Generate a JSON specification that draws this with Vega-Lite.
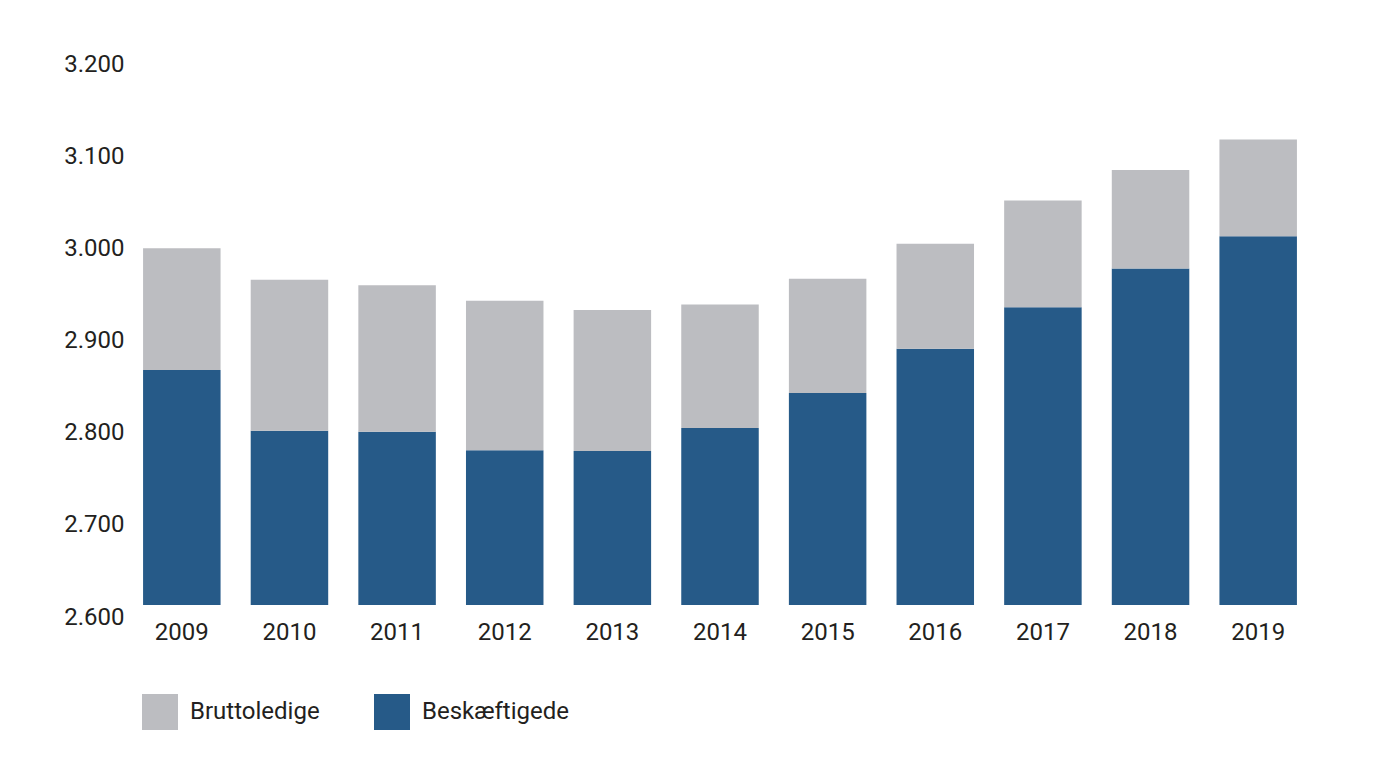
{
  "$schema": "https://vega.github.io/schema/vega-lite/v6.json",
  "autosize": {"type": "none"},
  "width": 1184,
  "height": 553,
  "padding": {"left": 128, "top": 52, "right": 61, "bottom": 169},
  "background": "white",
  "data": {
    "values": [
      {"year": "2009", "series": "Beskæftigede", "value": 2855},
      {"year": "2009", "series": "Bruttoledige", "value": 132},
      {"year": "2010", "series": "Beskæftigede", "value": 2789},
      {"year": "2010", "series": "Bruttoledige", "value": 164},
      {"year": "2011", "series": "Beskæftigede", "value": 2788},
      {"year": "2011", "series": "Bruttoledige", "value": 159},
      {"year": "2012", "series": "Beskæftigede", "value": 2768},
      {"year": "2012", "series": "Bruttoledige", "value": 162},
      {"year": "2013", "series": "Beskæftigede", "value": 2767},
      {"year": "2013", "series": "Bruttoledige", "value": 153},
      {"year": "2014", "series": "Beskæftigede", "value": 2792},
      {"year": "2014", "series": "Bruttoledige", "value": 134},
      {"year": "2015", "series": "Beskæftigede", "value": 2830},
      {"year": "2015", "series": "Bruttoledige", "value": 124},
      {"year": "2016", "series": "Beskæftigede", "value": 2878},
      {"year": "2016", "series": "Bruttoledige", "value": 114},
      {"year": "2017", "series": "Beskæftigede", "value": 2923},
      {"year": "2017", "series": "Bruttoledige", "value": 116},
      {"year": "2018", "series": "Beskæftigede", "value": 2965},
      {"year": "2018", "series": "Bruttoledige", "value": 107},
      {"year": "2019", "series": "Beskæftigede", "value": 3000},
      {"year": "2019", "series": "Bruttoledige", "value": 105}
    ]
  },
  "mark": {"type": "bar", "clip": true},
  "encoding": {
    "x": {
      "field": "year",
      "type": "ordinal",
      "scale": {"paddingInner": 0.28, "paddingOuter": 0.14},
      "axis": {
        "title": null,
        "labelAngle": 0,
        "ticks": false,
        "domain": false,
        "labelPadding": 15,
        "labelFont": "Roboto",
        "labelFontSize": 24,
        "labelColor": "#231f20"
      }
    },
    "y": {
      "field": "value",
      "type": "quantitative",
      "stack": "zero",
      "scale": {"domain": [2600, 3200], "zero": false, "nice": false},
      "axis": {
        "title": null,
        "values": [2600, 2700, 2800, 2900, 3000, 3100, 3200],
        "labelExpr": "replace(format(datum.value, ','), ',', '.')",
        "grid": false,
        "ticks": false,
        "domain": false,
        "labelBaseline": "top",
        "labelAlign": "right",
        "labelPadding": 4,
        "labelFont": "Roboto",
        "labelFontSize": 24,
        "labelColor": "#231f20"
      }
    },
    "order": {"field": "series", "sort": "ascending"},
    "color": {
      "field": "series",
      "type": "nominal",
      "scale": {"domain": ["Bruttoledige", "Beskæftigede"], "range": ["#bcbdc1", "#265a88"]},
      "legend": {
        "title": null,
        "orient": "none",
        "direction": "horizontal",
        "legendX": 14,
        "legendY": 642,
        "padding": 0,
        "symbolType": "square",
        "symbolSize": 1296,
        "symbolStrokeWidth": 0,
        "symbolOpacity": 1,
        "labelOffset": 12,
        "columnPadding": 54,
        "labelFont": "Roboto",
        "labelFontSize": 24,
        "labelColor": "#231f20",
        "labelLimit": 400
      }
    }
  },
  "config": {
    "view": {"stroke": null}
  }
}
